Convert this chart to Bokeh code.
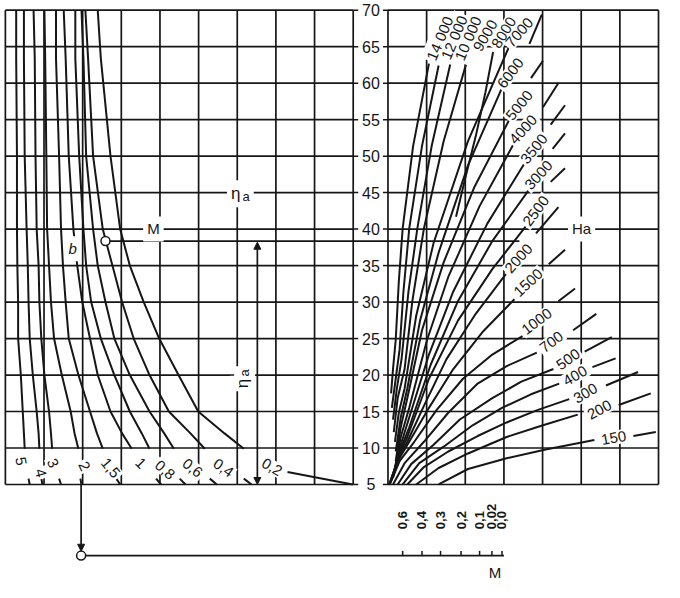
import math
from bokeh.plotting import figure
from bokeh.models import Range1d, ColumnDataSource, Arrow, NormalHead
from bokeh.embed import file_html
from bokeh.resources import INLINE
from bokeh.core.properties import value

FONT = "Liberation Sans"
INK = "#161616"

# ---------------- shared eta axis, grid columns ----------------
eta_ticks = [5, 10, 15, 20, 25, 30, 35, 40, 45, 50, 55, 60, 65, 70]
left_cols = [0, 1, 2, 3, 4, 5, 6, 7, 8, 9]          # left panel (b) columns
right_cols = [0, 1, 2, 3, 4, 5, 6, 7]               # right panel (Ha) columns
RIGHT_OFFSET = 9.9                                  # layout: start of right panel
TICK_LABEL_X = 9.46
TICK_LEN = 0.13

# ---------------- left panel: curves labelled 5 ... 0,2 ----------------
left_labels = ["5", "4", "3", "2", "1,5", "1", "0,8", "0,6", "0,4", "0,2"]
left_eta = [70, 63.4, 50, 40, 35, 30, 25, 20, 15, 12, 9.9]
left_b = [
    [0.28, 0.28, 0.30, 0.30, 0.31, 0.33, 0.33, 0.40, 0.45, 0.48, 0.50],   # 5
    [0.48, 0.48, 0.50, 0.55, 0.58, 0.60, 0.63, 0.71, 0.81, 0.86, 0.88],   # 4
    [0.73, 0.76, 0.78, 0.81, 0.86, 0.88, 0.93, 1.01, 1.13, 1.18, 1.21],   # 3
    [1.01, 1.03, 1.06, 1.08, 1.13, 1.18, 1.26, 1.46, 1.69, 1.79, 1.89],   # 2
    [1.31, 1.31, 1.39, 1.44, 1.49, 1.56, 1.64, 1.89, 2.19, 2.37, 2.52],   # 1,5
    [1.51, 1.56, 1.64, 1.76, 1.86, 1.99, 2.19, 2.39, 2.72, 3.02, 3.27],   # 1
    [1.81, 1.81, 1.91, 2.02, 2.09, 2.22, 2.47, 2.82, 3.22, 3.53, 3.73],   # 0,8
    [1.97, 2.02, 2.09, 2.27, 2.39, 2.59, 2.82, 3.22, 3.73, 4.11, 4.36],   # 0,6
    [2.07, 2.14, 2.27, 2.52, 2.77, 3.02, 3.32, 3.73, 4.23, 4.79, 5.16],   # 0,4
    [2.39, 2.47, 2.72, 2.97, 3.22, 3.58, 3.98, 4.48, 4.99, 5.67, 6.17],   # 0,2
]
left_tail_b = [[0.60, 0.63], [0.93, 0.96], [1.39, 1.44], [1.94, 1.97], [2.87, 2.97],
               [3.90, 4.03], [4.51, 4.66], [5.29, 5.47], [6.17, 6.37], [7.30, 8.99]]
left_tail_eta = [[5.8, 5.0]] * 9 + [[6.7, 5.0]]
left_label_b = [0.40, 0.91, 1.23, 2.04, 2.72, 3.50, 4.13, 4.84, 5.64, 6.90]
left_label_eta = [8.19, 6.59, 7.92, 7.52, 7.26, 7.92, 6.99, 7.26, 7.26, 7.39]
left_label_angle = [-80, -75, -65, -65, -50, -45, -40, -38, -35, -30]

# ---------------- right panel: curves labelled Ha ----------------
ha_labels = ["14 000", "12 000", "10 000", "9000", "8000", "7000", "6000", "5000",
             "4000", "3500", "3000", "2500", "2000", "1500", "1000", "700", "500",
             "400", "300", "200", "150"]
ha_c = [
    [0.08, 0.13, 0.20, 0.28, 0.38, 0.65, 1.06],   # 14 000
    [0.10, 0.20, 0.30, 0.40, 0.55, 0.88, 1.31],   # 12 000
    [0.13, 0.23, 0.35, 0.53, 0.76, 1.13, 1.61],   # 10 000
    [0.15, 0.25, 0.43, 0.63, 0.93, 1.44, 2.04],   # 9000
    [1.76, 2.02, 2.27, 2.52, 2.72],               # 8000
    [0.18, 0.28, 0.43, 0.73, 1.18, 2.07, 3.15],   # 7000
    [0.20, 0.33, 0.50, 0.83, 1.31, 2.07, 2.95],   # 6000
    [0.20, 0.33, 0.50, 0.88, 1.44, 2.24, 3.15],   # 5000
    [0.18, 0.33, 0.55, 1.01, 1.56, 2.37, 3.25],   # 4000
    [0.15, 0.33, 0.55, 1.06, 1.69, 2.57, 3.53],   # 3500
    [0.13, 0.30, 0.55, 1.11, 1.81, 2.70, 3.65],   # 3000
    [0.08, 0.25, 0.50, 1.06, 1.81, 2.70, 3.58],   # 2500
    [0.05, 0.25, 0.50, 0.93, 1.51, 2.27, 3.05],   # 2000
    [0.03, 0.25, 0.55, 1.06, 1.69, 2.44, 3.27],   # 1500
    [0.05, 0.30, 0.68, 1.26, 1.94, 2.70, 3.48],   # 1000
    [0.13, 0.43, 0.93, 1.56, 2.32, 3.07, 3.85],   # 700
    [0.25, 0.60, 1.18, 1.86, 2.70, 3.45, 4.28],   # 500
    [0.38, 0.81, 1.44, 2.19, 2.95, 3.70, 4.43],   # 400
    [0.50, 0.93, 1.56, 2.32, 3.07, 3.88, 4.69],   # 300
    [0.73, 1.31, 2.07, 3.07, 4.01, 4.91],         # 200
    [1.31, 2.07, 3.07, 4.08, 5.34],               # 150
]
ha_eta = [
    [17.49, 20.82, 24.80, 32.78, 40.09, 51.38, 62.68],
    [15.50, 19.49, 23.48, 31.45, 40.09, 51.38, 62.42],
    [13.90, 18.16, 22.15, 31.45, 40.09, 51.38, 62.55],
    [12.18, 16.83, 20.82, 30.12, 40.09, 52.05, 62.95],
    [41.69, 47.40, 52.71, 58.70, 64.28],
    [10.85, 14.83, 18.16, 28.12, 38.09, 52.05, 65.21],
    [9.52, 14.17, 18.16, 27.46, 36.77, 48.73, 59.36],
    [8.19, 12.84, 16.83, 26.13, 35.44, 45.81, 55.11],
    [7.26, 11.51, 15.50, 24.80, 33.44, 43.15, 51.65],
    [6.46, 10.45, 14.17, 22.81, 31.45, 40.75, 48.99],
    [5.93, 9.52, 12.84, 21.48, 30.12, 38.36, 45.40],
    [5.53, 8.59, 11.51, 19.49, 27.46, 34.51, 40.49],
    [5.26, 8.19, 10.85, 15.77, 22.15, 28.39, 33.84],
    [5.00, 8.19, 10.85, 15.50, 20.82, 25.86, 30.38],
    [5.00, 8.19, 10.85, 15.23, 19.49, 22.81, 25.34],
    [5.00, 7.92, 10.85, 14.83, 18.83, 21.22, 23.08],
    [5.00, 7.79, 10.45, 13.90, 16.83, 19.09, 20.82],
    [5.00, 7.92, 10.18, 13.11, 15.50, 17.36, 18.83],
    [5.00, 7.39, 9.52, 11.64, 13.50, 15.23, 16.70],
    [5.00, 7.26, 9.25, 11.51, 13.11, 14.57],
    [5.00, 7.12, 8.59, 9.78, 11.11],
]
ha_label_c = [1.34, 1.71, 2.07, 2.52, 3.00, 3.40, 3.17, 3.40, 3.50, 3.78, 3.90, 3.83,
              3.38, 3.63, 3.85, 4.23, 4.66, 4.84, 5.11, 5.47, 5.84]
ha_label_eta = [66.14, 66.27, 66.14, 66.54, 66.94, 66.94, 61.36, 56.97, 53.64, 50.99,
                47.40, 42.48, 35.97, 32.65, 27.33, 24.54, 22.15, 19.89, 17.49, 15.23, 11.38]
ha_label_angle = [67, 67, 67, 60, 59, 49, 53, 51, 48, 51, 48, 53, 48, 43, 37, 37, 35,
                  30, 30, 28, 10]
# short continuation strokes beyond the labels
dash_c0 = [3.66, 3.70, 4.01, 4.21, 4.26, 4.21, 3.83, 4.16, 4.41, 4.79, 5.09, 5.29, 5.64, 5.97, 6.35]
dash_eta0 = [65.40, 60.69, 56.70, 54.31, 50.99, 46.47, 39.42, 35.17, 30.12, 26.13, 23.21,
             21.08, 18.56, 15.90, 11.64]
dash_c1 = [3.98, 4.01, 4.41, 4.58, 4.58, 4.58, 4.41, 4.58, 4.84, 5.39, 5.79, 5.89, 6.47, 6.80, 6.93]
dash_eta1 = [69.40, 63.08, 60.03, 56.97, 53.11, 48.33, 43.01, 37.17, 31.85, 28.39, 25.20,
             22.28, 20.42, 17.49, 12.18]

# ---------------- worked example ----------------
example_eta = 38.36
example_b = 2.59             # start point on left curve
example_c_end = 3.40         # end on Ha curve (right panel units)
eta_arrow_b = 6.52
eta_arrow_top = 38.2
m_drop_b = 1.96              # vertical drop to the M scale

# ---------------- M scale (bottom) ----------------
m_tick_labels = ["0,6", "0,4", "0,3", "0,2", "0,1", "0,02", "0,0"]
m_tick_x = [10.28, 10.78, 11.26, 11.79, 12.27, 12.59, 12.85]
m_axis_end_x = 12.90
m_axis_eta = -4.75
m_label_eta = -1.12

# ---------------- free labels ----------------
annot_text = ["\u03b7", "a", "M", "Ha", "b"]
annot_x = [5.96, 6.23, 3.83, 14.91, 1.74]
annot_eta = [44.86, 44.47, 40.03, 40.03, 37.30]
annot_size = ["17px", "13px", "15px", "15px", "15px"]
annot_style = ["normal", "normal", "normal", "normal", "italic"]
vert_text = ["\u03b7", "a"]
vert_x = [6.13, 6.19]
vert_eta = [18.83, 20.30]
vert_size = ["17px", "13px"]

# ======================================================================
p = figure(width=662, height=580, output_backend="svg", toolbar_location=None,
           x_range=Range1d(-0.126, 17.003), y_range=Range1d(-8.16, 71.33),
           x_axis_location=None, y_axis_location=None, min_border=0)
p.grid.visible = False
p.outline_line_color = None
p.background_fill_color = "white"
p.border_fill_color = "white"

eta_min, eta_max = eta_ticks[0], eta_ticks[-1]
lx0, lx1 = left_cols[0], left_cols[-1]
rx0, rx1 = RIGHT_OFFSET + right_cols[0], RIGHT_OFFSET + right_cols[-1]

# grid: vertical lines
vx = list(left_cols) + [RIGHT_OFFSET + c for c in right_cols]
p.segment(x0=vx, y0=[eta_min] * len(vx), x1=vx, y1=[eta_max] * len(vx),
          line_color=INK, line_width=1.7)
# grid: horizontal lines, both panels
hx0 = [lx0] * len(eta_ticks) + [rx0] * len(eta_ticks)
hx1 = [lx1] * len(eta_ticks) + [rx1] * len(eta_ticks)
hy = eta_ticks + eta_ticks
p.segment(x0=hx0, y0=hy, x1=hx1, y1=hy, line_color=INK, line_width=1.7)

# tick marks on both sides of the shared eta labels
p.segment(x0=[lx1] * len(eta_ticks), y0=eta_ticks, x1=[lx1 + TICK_LEN] * len(eta_ticks),
          y1=eta_ticks, line_color=INK, line_width=1.5)
p.segment(x0=[rx0 - TICK_LEN] * len(eta_ticks), y0=eta_ticks, x1=[rx0] * len(eta_ticks),
          y1=eta_ticks, line_color=INK, line_width=1.5)
p.text(x=[TICK_LABEL_X] * len(eta_ticks), y=eta_ticks, text=[str(v) for v in eta_ticks],
       text_align="center", text_baseline="middle", text_font=value(FONT),
       text_font_size="16px", text_color=INK)

# left curves
p.multi_line(xs=left_b, ys=[left_eta] * len(left_b), line_color=INK, line_width=2,
             line_join="round")
p.multi_line(xs=left_tail_b, ys=left_tail_eta, line_color=INK, line_width=2)

# right curves
p.multi_line(xs=[[RIGHT_OFFSET + c for c in cs] for cs in ha_c], ys=ha_eta,
             line_color=INK, line_width=2, line_join="round")

# example path
p.segment(x0=[example_b], y0=[example_eta], x1=[RIGHT_OFFSET + example_c_end],
          y1=[example_eta], line_color=INK, line_width=1.7)
p.segment(x0=[m_drop_b], y0=[m_axis_eta], x1=[m_axis_end_x], y1=[m_axis_eta],
          line_color=INK, line_width=1.7)
p.segment(x0=m_tick_x, y0=[m_axis_eta] * len(m_tick_x), x1=m_tick_x,
          y1=[m_axis_eta + 0.65] * len(m_tick_x), line_color=INK, line_width=1.5)

# label sources
src_left = ColumnDataSource(dict(x=left_label_b, y=left_label_eta, text=left_labels,
                                 angle=[math.radians(a) for a in left_label_angle]))
src_ha = ColumnDataSource(dict(x=[RIGHT_OFFSET + c for c in ha_label_c], y=ha_label_eta,
                               text=ha_labels,
                               angle=[math.radians(a) for a in ha_label_angle]))
src_annot = ColumnDataSource(dict(x=annot_x, y=annot_eta, text=annot_text,
                                  size=annot_size, style=annot_style))
src_vert = ColumnDataSource(dict(x=vert_x, y=vert_eta, text=vert_text, size=vert_size))

common = dict(text_align="center", text_baseline="middle", text_font=value(FONT))

# white backgrounds first (break grid/curves behind labels)
p.text("x", "y", text="text", angle="angle", source=src_left, text_font_size="15px",
       text_alpha=0, background_fill_color="white", padding=2, **common)
p.text("x", "y", text="text", angle="angle", source=src_ha, text_font_size="15px",
       text_alpha=0, background_fill_color="white", padding=2, **common)
p.text("x", "y", text="text", source=src_annot, text_font_size="size",
       text_font_style="style", text_alpha=0, background_fill_color="white", padding=4,
       **common)
p.text("x", "y", text="text", source=src_vert, text_font_size="size", angle=math.pi / 2,
       text_alpha=0, background_fill_color="white", padding=3, **common)

# continuation strokes
p.segment(x0=[RIGHT_OFFSET + c for c in dash_c0], y0=dash_eta0,
          x1=[RIGHT_OFFSET + c for c in dash_c1], y1=dash_eta1,
          line_color=INK, line_width=2)

# texts
p.text("x", "y", text="text", angle="angle", source=src_left, text_font_size="15px",
       text_color=INK, **common)
p.text("x", "y", text="text", angle="angle", source=src_ha, text_font_size="15px",
       text_color=INK, **common)
p.text("x", "y", text="text", source=src_annot, text_font_size="size",
       text_font_style="style", text_color=INK, **common)
p.text("x", "y", text="text", source=src_vert, text_font_size="size", angle=math.pi / 2,
       text_color=INK, **common)

# M scale labels
p.text(x=m_tick_x, y=[m_label_eta] * len(m_tick_x), text=m_tick_labels, angle=math.pi / 2,
       text_align="left", text_baseline="middle", text_font=value(FONT),
       text_font_size="13px", text_font_style="bold", text_color=INK)
p.text(x=[(m_tick_x[-2] + m_tick_x[-1]) / 2 - 0.05], y=[m_axis_eta - 2.25], text=["M"],
       text_align="center", text_baseline="middle", text_font=value(FONT),
       text_font_size="15px", text_color=INK)

# arrows
p.add_layout(Arrow(end=NormalHead(size=7, fill_color=INK, line_color=INK),
                   x_start=m_drop_b, y_start=eta_min, x_end=m_drop_b, y_end=m_axis_eta + 0.6,
                   line_color=INK, line_width=1.7))
p.add_layout(Arrow(start=NormalHead(size=7, fill_color=INK, line_color=INK),
                   end=NormalHead(size=7, fill_color=INK, line_color=INK),
                   x_start=eta_arrow_b, y_start=eta_min, x_end=eta_arrow_b, y_end=eta_arrow_top,
                   line_color=INK, line_width=1.7))

# open circles
p.scatter(x=[example_b, m_drop_b], y=[example_eta, m_axis_eta], size=9, marker="circle",
          fill_color="white", line_color=INK, line_width=1.5)

open("out.html", "w").write(file_html(p, INLINE))
